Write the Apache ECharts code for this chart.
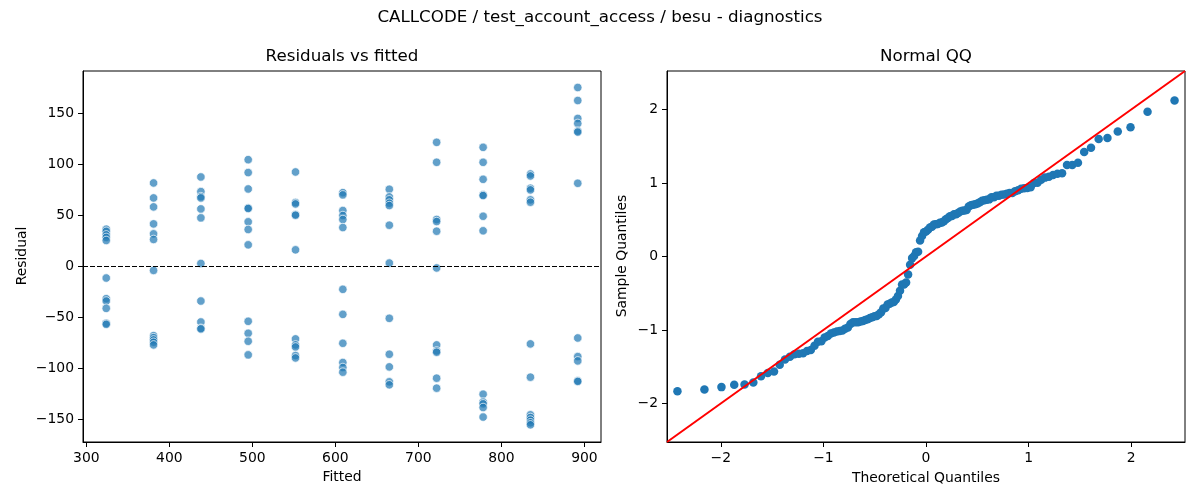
<!DOCTYPE html>
<html>
<head>
<meta charset="UTF-8" />
<title>diagnostics</title>
<script src="https://cdn.jsdelivr.net/npm/echarts@6/dist/echarts.min.js"></script>
<style>
html, body { margin: 0; padding: 0; background: #fff; }
#main { width: 1200px; height: 500px; }
</style>
</head>
<body>
<div id="main"></div>
<script type="text/javascript">
// values: one residual list per fitted level
var fitted = [324, 381, 438, 495, 552, 609, 665, 722, 778, 835, 892];
var residuals = [
  [36.6, 34.5, 31, 28.5, 25.5, -11.4, -31.7, -34, -41.2, -55.9, -56.9],
  [82, 67.3, 58.5, 41.8, 32, 26.5, -3.9, -68, -70, -72.2, -74.5, -77.1],
  [87.9, 73.5, 68.6, 67.3, 56.5, 47.7, 2.9, -34, -54.6, -60.8, -61.4],
  [104.9, 92.2, 76.1, 57.5, 56.9, 43.8, 36.3, 21.2, -53.9, -65.7, -73.5, -86.9],
  [92.8, 62.7, 61.4, 51, 50.3, 16.3, -71.2, -77.1, -79.1, -87.6, -89.9],
  [72.5, 70.3, 54.9, 50, 46.1, 38.2, -22.5, -47.1, -75.5, -94.4, -99.3, -103.9],
  [75.8, 68.3, 65.4, 62.1, 59.8, 40.5, 3.3, -51, -86.3, -98.7, -113.4, -116.3],
  [121.9, 102.3, 46.1, 44.1, 34.6, -1.5, -77.1, -83, -84.3, -109.8, -119.6],
  [117, 102.3, 85.6, 70.3, 69.6, 49.3, 35, -125.5, -133.3, -135, -138.6, -148],
  [90.8, 88.9, 76.8, 75.2, 65.4, 63.1, -76.1, -108.8, -145.8, -148.4, -151, -153.6, -155.6],
  [175.8, 163, 145.4, 140.5, 133, 132, 81.7, -70.3, -88.6, -92.8, -112.4, -113]
];
var fittedTicks = [300, 400, 500, 600, 700, 800, 900];
var residualTicks = [-150, -100, -50, 0, 50, 100, 150];
var qqTicks = [-2, -1, 0, 1, 2];

var FONT = 'DejaVu Sans';
var qqLim = 2.525;

// inverse normal cdf (Acklam)
function normPpf(p) {
  var a = [-39.69683028665376, 220.9460984245205, -275.9285104469687, 138.3577518672690, -30.66479806614716, 2.506628277459239];
  var b = [-54.47609879822406, 161.5858368580409, -155.6989798598866, 66.80131188771972, -13.28068155288572];
  var c = [-0.007784894002430293, -0.3223964580411365, -2.400758277161838, -2.549732539343734, 4.374664141464968, 2.938163982698783];
  var d = [0.007784695709041462, 0.3224671290700398, 2.445134137142996, 3.754408661907416];
  var pl = 0.02425, q, r;
  if (p < pl) {
    q = Math.sqrt(-2 * Math.log(p));
    return (((((c[0]*q+c[1])*q+c[2])*q+c[3])*q+c[4])*q+c[5]) / ((((d[0]*q+d[1])*q+d[2])*q+d[3])*q+1);
  }
  if (p > 1 - pl) {
    q = Math.sqrt(-2 * Math.log(1 - p));
    return -(((((c[0]*q+c[1])*q+c[2])*q+c[3])*q+c[4])*q+c[5]) / ((((d[0]*q+d[1])*q+d[2])*q+d[3])*q+1);
  }
  q = p - 0.5; r = q * q;
  return (((((a[0]*r+a[1])*r+a[2])*r+a[3])*r+a[4])*r+a[5])*q / (((((b[0]*r+b[1])*r+b[2])*r+b[3])*r+b[4])*r+1);
}

var scatterData = [];
var all = [];
fitted.forEach(function (f, i) {
  residuals[i].forEach(function (r) {
    scatterData.push([f, r]);
    all.push(r);
  });
});

// standardised sample vs normal quantiles
var n = all.length;
var mean = all.reduce(function (s, v) { return s + v; }, 0) / n;
var sd = Math.sqrt(all.reduce(function (s, v) { return s + (v - mean) * (v - mean); }, 0) / n);
var sorted = all.slice().sort(function (x, y) { return x - y; });
var qqData = sorted.map(function (v, i) {
  return [normPpf((i + 1) / (n + 1)), (v - mean) / sd];
});

function minus(v) { return String(v).replace('-', '\u2212'); }

function axis(gridIndex, min, max, ticks) {
  return {
    type: 'value', gridIndex: gridIndex, min: min, max: max,
    splitLine: { show: false },
    axisLine: { show: true, onZero: false, lineStyle: { color: '#000', width: 1 } },
    axisTick: { show: true, length: 5, customValues: ticks, lineStyle: { color: '#000', width: 1 } },
    axisLabel: { customValues: ticks, margin: 9, color: '#000', fontSize: 13.9, fontFamily: FONT, formatter: minus }
  };
}

function txt(x, y, s, size, rot) {
  return {
    type: 'text', x: x, y: y, rotation: rot || 0, silent: true,
    style: { text: s, fill: '#000', font: size + 'px "' + FONT + '"', textAlign: 'center', textVerticalAlign: 'middle' }
  };
}

var chart = echarts.init(document.getElementById('main'));
chart.setOption({
  animation: false,
  backgroundColor: '#fff',
  grid: [
    { left: 83, top: 71, width: 518, height: 371, show: true, borderColor: '#000', borderWidth: 1, containLabel: false, outerBoundsMode: 'none' },
    { left: 667, top: 71, width: 518, height: 371, show: true, borderColor: '#000', borderWidth: 1, containLabel: false, outerBoundsMode: 'none' }
  ],
  xAxis: [axis(0, 296, 920, fittedTicks), axis(1, -qqLim, qqLim, qqTicks)],
  yAxis: [axis(0, -172.5, 192, residualTicks), axis(1, -qqLim, qqLim, qqTicks)],
  graphic: [
    txt(600, 18, 'CALLCODE / test_account_access / besu - diagnostics', 16.7),
    txt(342, 57, 'Residuals vs fitted', 16.7),
    txt(926, 57, 'Normal QQ', 16.7),
    txt(342, 477, 'Fitted', 13.9),
    txt(22, 256, 'Residual', 13.9, Math.PI / 2),
    txt(926, 478, 'Theoretical Quantiles', 13.9),
    txt(622, 256, 'Sample Quantiles', 13.9, Math.PI / 2)
  ],
  series: [
    {
      type: 'scatter', xAxisIndex: 0, yAxisIndex: 0, z: 2,
      symbolSize: 8.5,
      itemStyle: { color: 'rgba(31,119,180,0.7)', borderColor: '#fff', borderWidth: 0.7, opacity: 1 },
      data: scatterData,
      markLine: {
        silent: true, symbol: ['none', 'none'], label: { show: false },
        lineStyle: { color: '#000', width: 1.2, type: [5, 2] },
        data: [{ yAxis: 0 }]
      }
    },
    {
      type: 'scatter', xAxisIndex: 1, yAxisIndex: 1, z: 2,
      symbolSize: 8.5,
      itemStyle: { color: '#1f77b4', opacity: 1 },
      data: qqData
    },
    {
      type: 'line', xAxisIndex: 1, yAxisIndex: 1, z: 3,
      symbol: 'none', silent: true,
      lineStyle: { color: '#ff0000', width: 2 },
      data: [[-qqLim, -qqLim], [qqLim, qqLim]]
    }
  ]
});
</script>
</body>
</html>
